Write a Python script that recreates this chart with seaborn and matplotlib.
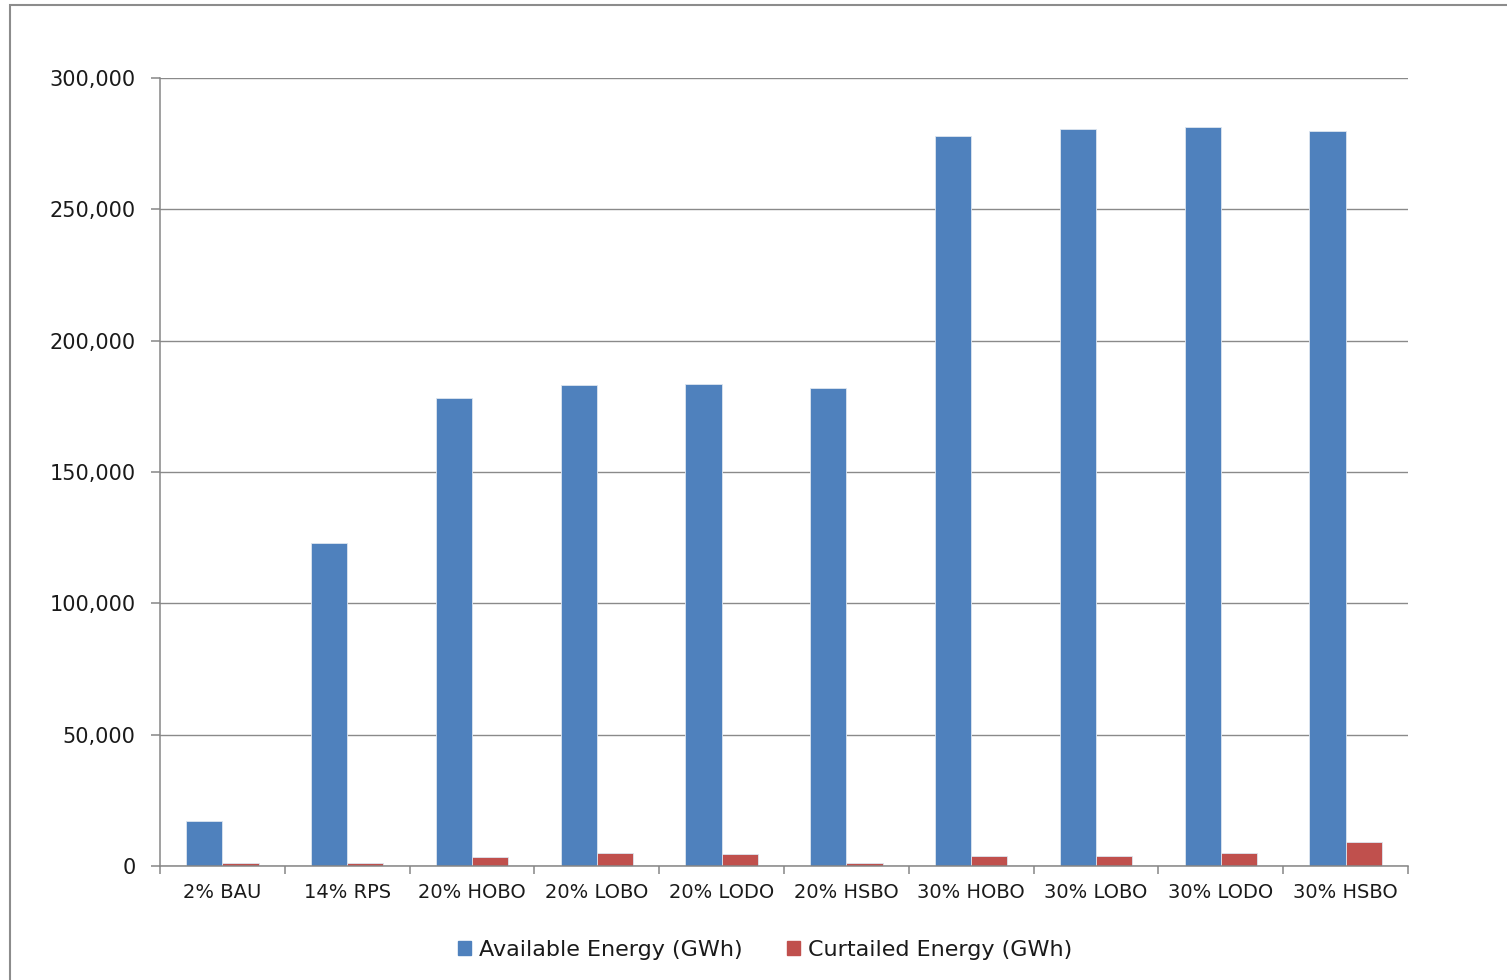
import pandas as pd
import matplotlib.pyplot as plt
import matplotlib.ticker as mticker
from matplotlib.patches import Rectangle
import seaborn as sns

sns.set_theme(style="white")
plt.rcParams["font.family"] = ["DejaVu Sans"]

scenarios = ["2% BAU", "14% RPS", "20% HOBO", "20% LOBO", "20% LODO",
             "20% HSBO", "30% HOBO", "30% LOBO", "30% LODO", "30% HSBO"]
available = [17000, 123000, 178000, 183000, 183500,
             182000, 278000, 280500, 281500, 280000]
curtailed = [1000, 1000, 3400, 5100, 4600,
             1200, 3900, 3900, 5100, 9100]
series = ["Available Energy (GWh)", "Curtailed Energy (GWh)"]
colors = ["#4F81BD", "#C0504D"]

df = pd.DataFrame({
    "scenario": scenarios * 2,
    "value": available + curtailed,
    "series": [series[0]] * len(scenarios) + [series[1]] * len(scenarios),
})

fig = plt.figure(figsize=(15.07, 9.8), dpi=100)
ax = fig.add_axes([160 / 1507, 1 - 866 / 980, 1248 / 1507, 788 / 980])

sns.barplot(data=df, x="scenario", y="value", hue="series",
            palette=colors, width=0.58, saturation=1, ax=ax,
            order=scenarios, hue_order=series, linewidth=0.6,
            edgecolor="#dde6f0")

# ── Axes styling ──
ax.set_xlim(-0.5, len(scenarios) - 0.5)
ax.set_ylim(0, 300000)
ax.set_yticks(range(0, 300001, 50000))
ax.yaxis.set_major_formatter(mticker.FuncFormatter(lambda v, p: f"{int(v):,}"))
ax.yaxis.grid(True, color="#8a8a8a", linewidth=1.0)
ax.set_axisbelow(True)
ax.set_xlabel("")
ax.set_ylabel("")

for side in ["top", "right"]:
    ax.spines[side].set_visible(False)
for side in ["left", "bottom"]:
    ax.spines[side].set_color("#868686")
    ax.spines[side].set_linewidth(1.1)

ax.set_xticks([i - 0.5 for i in range(len(scenarios) + 1)], minor=True)
ax.tick_params(axis="x", which="minor", length=6, width=1.1,
               color="#868686", direction="out", bottom=True)
ax.tick_params(axis="x", which="major", length=0, pad=12,
               labelsize=14, labelcolor="#1a1a1a")
ax.tick_params(axis="y", which="major", length=6.5, width=1.1,
               color="#868686", direction="out", left=True, pad=11,
               labelsize=15, labelcolor="#1a1a1a")

# ── Legend at bottom ──
ax.get_legend().remove()
handles = [Rectangle((0, 0), 1, 1, color=c) for c in colors]
leg = fig.legend(handles, series, loc="center",
                 bbox_to_anchor=(765 / 1507, 1 - 950 / 980), ncol=2,
                 frameon=False, fontsize=16, handlelength=0.6,
                 handleheight=0.6, handletextpad=0.35, columnspacing=2.0)
for t in leg.get_texts():
    t.set_color("#1a1a1a")

# ── Outer chart border (cut off at right and bottom) ──
fig.patches.append(Rectangle((9.5 / 1507, -0.1), 1.2, 1.1 - 5.5 / 980,
                             transform=fig.transFigure, fill=False,
                             edgecolor="#8c8c8c", linewidth=1.5))

plt.savefig("out.png", dpi=100)
plt.close()
